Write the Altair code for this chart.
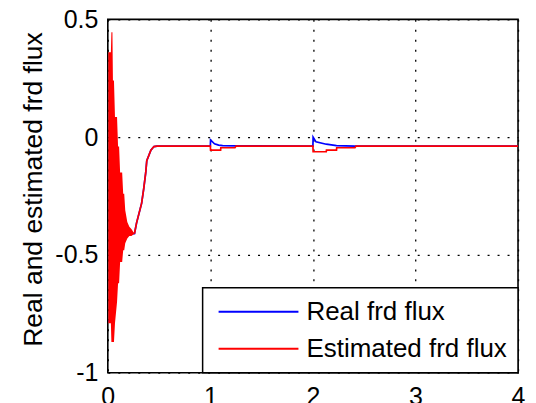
import altair as alt
import pandas as pd

# ---------------- data ----------------
series_names = ["Real frd flux", "Estimated frd flux"]
series_colors = ["#0000ff", "#ff0000"]

# start-up oscillation of the estimated flux (dense, drawn as its envelope band)
band_t = [0.005, 0.03, 0.035, 0.045, 0.05, 0.06, 0.07, 0.09, 0.10, 0.11, 0.12, 0.14,
          0.15, 0.16, 0.17, 0.19, 0.21, 0.23, 0.26]
band_upper = [0.36, 0.36, 0.445, 0.445, 0.24, 0.24, 0.085, 0.085, -0.04, -0.04, -0.15, -0.15,
              -0.24, -0.24, -0.31, -0.36, -0.38, -0.39, -0.41]
band_lower = [-0.79, -0.79, -0.87, -0.87, -0.87, -0.87, -0.79, -0.70, -0.62, -0.62, -0.53, -0.53,
              -0.48, -0.48, -0.45, -0.43, -0.42, -0.42, -0.41]

# estimated flux after the start-up
est_t = [0.26, 0.28, 0.33, 0.35, 0.37, 0.38, 0.42, 0.45, 0.48, 1.0, 1.002, 1.10, 1.102,
         1.24, 1.25, 2.0, 2.002, 2.13, 2.132, 2.23, 2.232, 2.41, 2.42, 4.0]
est_v = [-0.41, -0.365, -0.28, -0.22, -0.15, -0.10, -0.055, -0.04, -0.038, -0.038, -0.055, -0.055, -0.045,
         -0.045, -0.038, -0.038, -0.062, -0.062, -0.055, -0.055, -0.045, -0.045, -0.038, -0.038]

# real flux
real_t = [0.005, 0.02, 0.05, 0.12, 0.19, 0.26, 0.28, 0.33, 0.35, 0.37, 0.38, 0.42, 0.45, 0.48,
          1.0, 1.002, 1.04, 1.08, 1.12, 1.25, 2.0, 2.002, 2.03, 2.13, 2.23, 2.41, 4.0]
real_v = [-0.78, -0.78, -0.60, -0.45, -0.41, -0.41, -0.365, -0.28, -0.22, -0.15, -0.10, -0.055, -0.04, -0.038,
          -0.038, -0.012, -0.028, -0.034, -0.036, -0.037, -0.038, 0.0, -0.02, -0.03, -0.036, -0.038, -0.038]

x_ticks = [0, 1, 2, 3, 4]
y_ticks = [-1, -0.5, 0, 0.5]
y_title = "Real and estimated frd flux"

# ---------------- tables ----------------
real_df = pd.DataFrame({"t": real_t, "v": real_v, "series": series_names[0]})
est_df = pd.DataFrame({"t": est_t, "v": est_v, "series": series_names[1]})
band_df = pd.DataFrame({"t": band_t, "upper": band_upper, "lower": band_lower})

FONT = "Liberation Sans"

x_enc = alt.X("t:Q", scale=alt.Scale(domain=[0, 4], nice=False, zero=False),
              axis=alt.Axis(values=x_ticks, title=None, labelPadding=12, labelFlush=False))

y_axis = alt.Axis(values=y_ticks, labelExpr="toString(datum.value)", title=y_title,
                  titleFont=FONT, titleFontSize=26.5, titleFontWeight="normal", titleColor="black",
                  titleAngle=270, titleX=-66, titleY=170, titleAlign="center",
                  titleBaseline="alphabetic", labelPadding=10, labelFlush=False)
y_scale = alt.Scale(domain=[-1, 0.5], nice=False, zero=False)

color_enc = alt.Color("series:N",
                      scale=alt.Scale(domain=series_names, range=series_colors),
                      legend=alt.Legend(title=None, orient="bottom-right", offset=0,
                                        symbolType="M-8,0H8", symbolSize=100,
                                        symbolStrokeWidth=2, symbolOffset=32,
                                        labelOffset=35, padding=11, rowPadding=11,
                                        labelFont=FONT, labelFontSize=26, labelColor="black",
                                        labelLimit=0, strokeColor="black", fillColor="white"))

blue = alt.Chart(real_df).mark_line(strokeWidth=1.7).encode(
    x=x_enc, y=alt.Y("v:Q", scale=y_scale, axis=y_axis), color=color_enc)

band = alt.Chart(band_df).mark_area(color="#ff0000", opacity=1).encode(
    x=x_enc, y=alt.Y("upper:Q", scale=y_scale, axis=y_axis), y2="lower:Q")

red = alt.Chart(est_df).mark_line(strokeWidth=1.7).encode(
    x=x_enc, y=alt.Y("v:Q", scale=y_scale, axis=y_axis), color=color_enc)

chart = alt.layer(blue, band, red).properties(
    width=411, height=354,
    autosize=alt.AutoSizeParams(type="none"),
    padding={"left": 100, "top": 11, "right": 10, "bottom": 40},
    background="white",
).configure_view(
    stroke="black", strokeWidth=1.6
).configure_axis(
    labelFont=FONT, labelFontSize=25, labelColor="black",
    grid=True, gridColor="black", gridDash=[2, 8], gridWidth=1.3, gridOpacity=1,
    domain=False, ticks=False
).configure_legend(
    strokeWidth=1.5
)

chart.save("out.html", embed_options={"renderer": "svg", "actions": False})
